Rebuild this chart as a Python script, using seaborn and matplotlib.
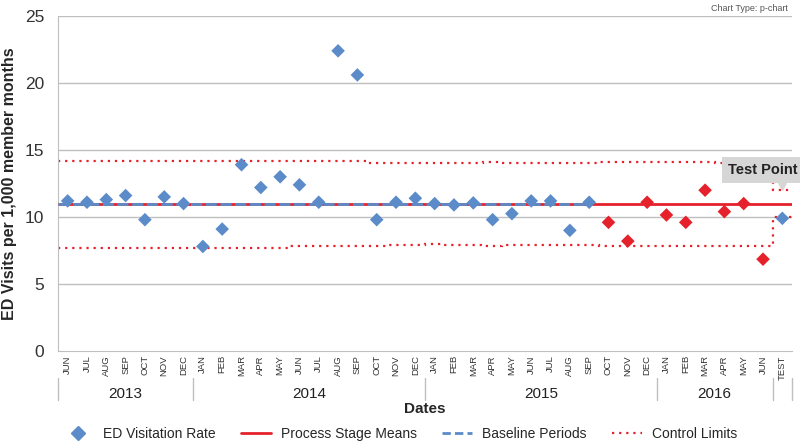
import numpy as np
import pandas as pd
import seaborn as sns
import matplotlib.pyplot as plt
from matplotlib.lines import Line2D
import matplotlib.transforms as mtransforms

# months on the x axis, grouped by year
months = ['JUN', 'JUL', 'AUG', 'SEP', 'OCT', 'NOV', 'DEC',
          'JAN', 'FEB', 'MAR', 'APR', 'MAY', 'JUN', 'JUL', 'AUG', 'SEP', 'OCT', 'NOV', 'DEC',
          'JAN', 'FEB', 'MAR', 'APR', 'MAY', 'JUN', 'JUL', 'AUG', 'SEP', 'OCT', 'NOV', 'DEC',
          'JAN', 'FEB', 'MAR', 'APR', 'MAY', 'JUN',
          'TEST']
years = ['2013', '2014', '2015', '2016', '']
year_sizes = [7, 12, 12, 6, 1]

# ED visits per 1,000 member months
rate = [11.2, 11.1, 11.3, 11.6, 9.8, 11.5, 11.0,
        7.8, 9.1, 13.9, 12.2, 13.0, 12.4, 11.1, 22.4, 20.6, 9.8, 11.1, 11.4,
        11.0, 10.9, 11.05, 9.8, 10.25, 11.2, 11.2, 9.0, 11.1, 9.6, 8.2, 11.1,
        10.15, 9.6, 12.0, 10.4, 11.0, 6.85,
        9.9]
# phase of each point: baseline (blue) or process stage (red)
phase = ['baseline'] * 28 + ['stage'] * 9 + ['baseline']

upper_limit = [14.2] * 16 + [14.0] * 6 + [14.1] + [14.0] * 5 + [14.1] * 6 + [14.0] * 3 + [12.0]
lower_limit = [7.7] * 12 + [7.8] * 5 + [7.9] * 2 + [7.95] + [7.9] * 2 + [7.8] + [7.9] * 5 + [7.8] * 9 + [10.0]

stage_mean = 11.0
baseline_end = 27  # last baseline month (2015 SEP)

blue = '#5B8BC9'
red = '#E5222B'
grid_gray = '#BFBFBF'

sns.set_style('white')
plt.rcParams['font.family'] = ['Liberation Sans', 'DejaVu Sans']

df = pd.DataFrame({'idx': np.arange(len(months)), 'rate': rate, 'phase': phase})

fig = plt.figure(figsize=(8, 4.43), dpi=100)
ax = fig.add_axes([0.0725, 0.2077, 0.9175, 0.7562])

n = len(months)
edges = np.arange(n + 1) - 0.5

# y grid
for v in [5, 10, 15, 20, 25]:
    ax.axhline(v, color=grid_gray, lw=1, zorder=0)

# control limits
ax.stairs(upper_limit, edges, baseline=None, color=red, lw=1.6, linestyle=(0, (1, 2.2)), zorder=2)
ax.stairs(lower_limit, edges, baseline=None, color=red, lw=1.6, linestyle=(0, (1, 2.2)), zorder=2)

# process stage mean and baseline period
ax.hlines(stage_mean, -0.5, n - 0.5, color=red, lw=2.0, zorder=3)
ax.hlines(stage_mean, -0.5, baseline_end, color=blue, lw=2.0, linestyle=(0, (4, 1.3)), zorder=3)

sns.scatterplot(data=df, x='idx', y='rate', hue='phase', palette={'baseline': blue, 'stage': red},
                marker='D', s=48, linewidth=0, legend=False, ax=ax, zorder=5)

ax.set_xlim(-0.5, n - 0.5)
ax.set_ylim(0, 25)
ax.set_yticks([0, 5, 10, 15, 20, 25])
ax.tick_params(axis='y', length=0, pad=10, labelsize=12.5, labelcolor='#333333')

ax.set_xticks(np.arange(n))
ax.set_xticklabels(months, rotation=90, fontsize=6.8, color='#333333')
ax.tick_params(axis='x', which='major', length=0, pad=3)
ax.set_xticks(edges, minor=True)
ax.tick_params(axis='x', which='minor', length=20, color=grid_gray, width=1)

for s in ['top', 'right']:
    ax.spines[s].set_visible(False)
ax.spines['left'].set_color(grid_gray)
ax.spines['bottom'].set_color(grid_gray)

# year groups under the months
trans = mtransforms.blended_transform_factory(ax.transData, ax.transAxes)
start = -0.5
for yr, size in zip(years, year_sizes):
    end = start + size
    ax.text((start + end) / 2, -0.128, yr, transform=trans, ha='center', va='center',
            fontsize=11, color='#222222')
    start = end
year_edges = np.concatenate([[-0.5], -0.5 + np.cumsum(year_sizes)])
for e in year_edges:
    ax.plot([e, e], [-0.08, -0.146], transform=trans, color=grid_gray, lw=1, clip_on=False)

ax.set_xlabel('Dates', fontsize=11, fontweight='bold', labelpad=13)
ax.set_ylabel('ED Visits per 1,000 member months', fontsize=11.5, fontweight='bold', va='center')
ax.yaxis.set_label_coords(-0.066, 0.5)

# Test Point callout
ax.text(36.0, 13.5, 'Test Point', ha='center', va='center', fontsize=10.5, fontweight='bold',
        color='#222222', zorder=6,
        bbox=dict(boxstyle='square,pad=0.4', fc='#D6D6D6', ec='none'), clip_on=False)
ax.plot([37], [12.45], marker='v', ms=9, color='#D6D6D6', zorder=6, clip_on=False)

fig.text(0.985, 0.99, 'Chart Type: p-chart', ha='right', va='top', fontsize=6.5, color='#555555')

handles = [
    Line2D([], [], marker='D', color=blue, lw=0, ms=7),
    Line2D([], [], color=red, lw=2),
    Line2D([], [], color=blue, lw=2, linestyle=(0, (3, 1.5))),
    Line2D([], [], color=red, lw=1.6, linestyle=(0, (1, 2.2))),
]
labels = ['ED Visitation Rate', 'Process Stage Means', 'Baseline Periods', 'Control Limits']
fig.legend(handles, labels, loc='center', bbox_to_anchor=(0.5, 1 - 434 / 443), ncol=4,
           frameon=False, fontsize=10, columnspacing=1.8, handlelength=2.2, handletextpad=0.7)

fig.savefig('out.png', dpi=100)
